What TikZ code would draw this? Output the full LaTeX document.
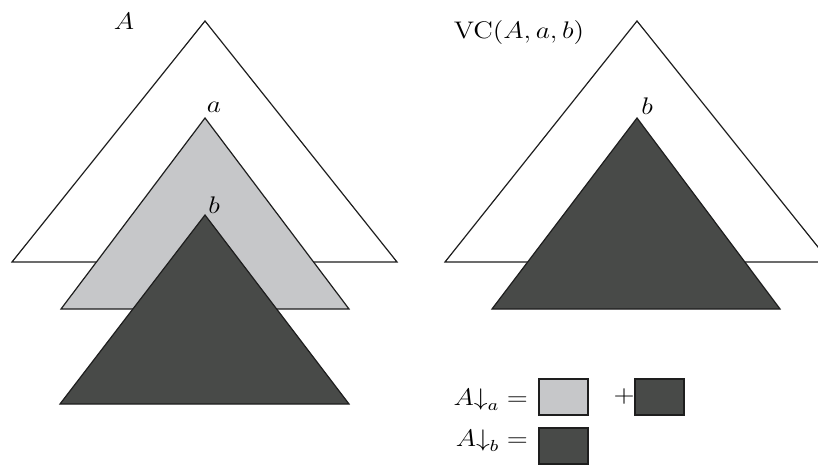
\documentclass[tikz,border=0pt]{standalone}
\usepackage{amsmath,amssymb}
\usepackage{xcolor}
\usepackage{tikz}
\definecolor{lightshade}{RGB}{198,199,201}
\definecolor{darkshade}{RGB}{72,74,72}

\begin{document}
\begin{tikzpicture}[x=.5pt,y=-.5pt,
  outline/.style={draw={rgb,255:red,30;green,30;blue,30},line width=0.6pt,line join=miter},
  lbl/.style={inner sep=0pt,outer sep=0pt,xscale=1.15,transform shape,font=\fontsize{12}{14.4}\selectfont}]
\path[use as bounding box] (0,0) rectangle (818,466);
\clip (0,0) rectangle (818,466);
\path[fill=white,draw=none] (0,0) rectangle (818,466);
% left: A with subtrees at a and b
\path[fill=white,outline] (205,21) -- (397,262) -- (12,262) -- cycle;
\path[fill=lightshade,outline] (205,118) -- (349,309) -- (61,309) -- cycle;
\path[fill=darkshade,outline] (205,215) -- (349,404) -- (60,404) -- cycle;
\node[lbl] (labA) at (124,21) {$A$};
\node[lbl] (laba) at (214,107) {$a$};
\node[lbl] (labb) at (214,205) {$b$};
% right: VC(A,a,b)
\path[fill=white,outline] (637,21) -- (830,262) -- (445,262) -- cycle;
\path[fill=darkshade,outline] (637,118) -- (780,309) -- (492,309) -- cycle;
\node[lbl] (labvc) at (519,32) {$\mathrm{VC}(A,a,b)$};
\node[lbl] (labbr) at (647,106) {$b$};
% legend
\node[lbl,anchor=base east] (eqa) at (528,405) {$A{\downarrow}_a =$};
\path[fill=lightshade,outline] (539,379) rectangle (588,415);
\node[lbl] (plus) at (624,396) {$+$};
\path[fill=darkshade,outline] (635,379) rectangle (684,415);
\node[lbl,anchor=base east] (eqb) at (528,446) {$A{\downarrow}_b =$};
\path[fill=darkshade,outline] (539,428) rectangle (588,464);
\end{tikzpicture}
\end{document}
